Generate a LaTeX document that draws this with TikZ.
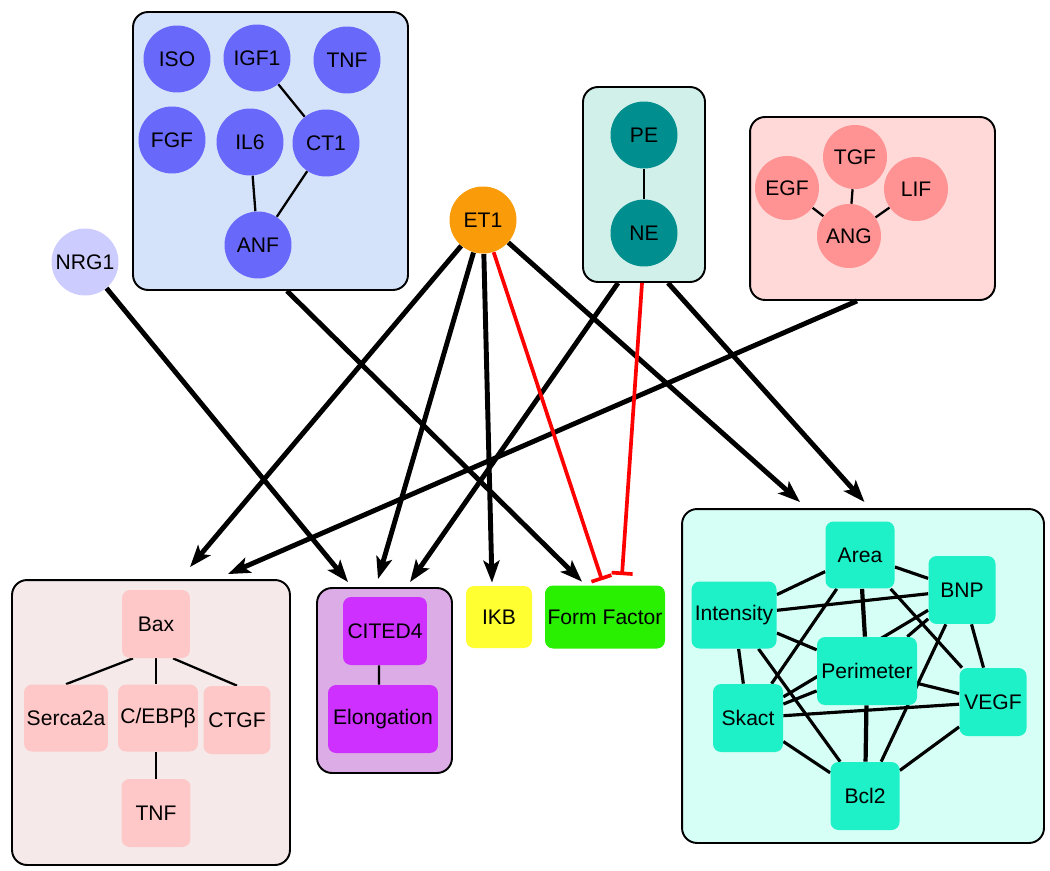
\documentclass[tikz,border=0pt]{standalone}
\usepackage{fontspec}
\setmainfont{Liberation Sans}
\usetikzlibrary{arrows.meta}
\pgfdeclarelayer{bg}
\pgfdeclarelayer{edges}
\pgfsetlayers{bg,edges,main}
\definecolor{bluefill}{RGB}{212,226,250}
\definecolor{bluenode}{RGB}{104,104,250}
\definecolor{tealfill}{RGB}{210,240,234}
\definecolor{tealnode}{RGB}{0,142,142}
\definecolor{pinkfill}{RGB}{255,216,216}
\definecolor{pinknode}{RGB}{255,146,146}
\definecolor{et1col}{RGB}{250,155,10}
\definecolor{nrgcol}{RGB}{204,204,255}
\definecolor{rosefill}{RGB}{245,233,233}
\definecolor{rosenode}{RGB}{255,200,200}
\definecolor{purfill}{RGB}{220,172,230}
\definecolor{purnode}{RGB}{206,48,255}
\definecolor{ikbcol}{RGB}{255,255,50}
\definecolor{ffcol}{RGB}{40,240,0}
\definecolor{aquafill}{RGB}{214,255,246}
\definecolor{aquanode}{RGB}{30,240,200}
\tikzset{
  group/.style={draw=black, line width=1.1pt, rounded corners=0.3cm, inner sep=0pt},
  circ/.style={circle, minimum size=1.34cm, inner sep=0pt, font=\fontsize{12}{14}\selectfont},
  pcirc/.style={circ, minimum size=1.28cm},
  rnode/.style={rectangle, rounded corners=0.16cm, inner sep=0pt, font=\fontsize{12}{14}\selectfont},
  inedge/.style={line width=1.3pt},
  aedge/.style={line width=1.8pt},
  tedge/.style={line width=2.4pt},
  arr/.style={line width=2.8pt, -{Stealth[length=0.44cm,width=0.32cm,inset=0.1cm]}},
  inh/.style={red, line width=2.1pt, -{Bar[width=0.42cm]}}
}
\begin{document}
\begin{tikzpicture}[x=0.02cm,y=-0.02cm]
\useasboundingbox (0,0) rectangle (1050,871);
% group boxes
\begin{pgfonlayer}{bg}
\node[group, fill=bluefill, minimum width=5.5cm, minimum height=5.56cm] (bbox) at (270.5,151) {};
\node[group, fill=tealfill, minimum width=2.44cm, minimum height=3.9cm] (tbox) at (644,184.5) {};
\node[group, fill=pinkfill, minimum width=4.9cm, minimum height=3.66cm] (kbox) at (872.5,208.5) {};
\node[group, fill=rosefill, minimum width=5.56cm, minimum height=5.7cm] (lbox) at (151,722.5) {};
\node[group, fill=purfill, minimum width=2.7cm, minimum height=3.7cm] (pbox) at (384.5,680.5) {};
\node[group, fill=aquafill, minimum width=7.24cm, minimum height=6.68cm] (rbox) at (863,676) {};
\end{pgfonlayer}
% circle nodes
\node[circ, fill=bluenode] (iso) at (177,59) {ISO};
\node[circ, fill=bluenode] (igf) at (257,58) {IGF1};
\node[circ, fill=bluenode] (tnfa) at (347,60) {TNF};
\node[circ, fill=bluenode] (fgf) at (172,140) {FGF};
\node[circ, fill=bluenode] (il6) at (250,142) {IL6};
\node[circ, fill=bluenode] (ct1) at (326,143) {CT1};
\node[circ, fill=bluenode] (anf) at (258,245) {ANF};
\node[circ, fill=tealnode] (pe) at (644,135) {PE};
\node[circ, fill=tealnode] (ne) at (644,233) {NE};
\node[pcirc, fill=pinknode] (egf) at (787,188) {EGF};
\node[pcirc, fill=pinknode] (tgf) at (855,157) {TGF};
\node[pcirc, fill=pinknode] (lif) at (916,189) {LIF};
\node[pcirc, fill=pinknode] (ang) at (849,236) {ANG};
\node[circ, fill=et1col] (et1) at (483,220) {ET1};
\node[circ, fill=nrgcol] (nrg1) at (85,262) {NRG1};
% rectangle nodes
\node[rnode, fill=rosenode, minimum width=1.36cm, minimum height=1.36cm] (bax) at (156,624) {Bax};
\node[rnode, fill=rosenode, minimum width=1.68cm, minimum height=1.34cm] (serca) at (66,718) {Serca2a};
\node[rnode, fill=rosenode, minimum width=1.6cm, minimum height=1.34cm] (cebp) at (158,718) {C/EBPβ};
\node[rnode, fill=rosenode, minimum width=1.34cm, minimum height=1.36cm] (ctgf) at (237,720) {CTGF};
\node[rnode, fill=rosenode, minimum width=1.38cm, minimum height=1.36cm] (tnfb) at (156,813) {TNF};
\node[rnode, fill=purnode, minimum width=1.68cm, minimum height=1.36cm] (cited) at (385,631) {CITED4};
\node[rnode, fill=purnode, minimum width=2.2cm, minimum height=1.36cm] (elong) at (383,719) {Elongation};
\node[rnode, fill=ikbcol, minimum width=1.32cm, minimum height=1.24cm] (ikb) at (499,617) {IKB};
\node[rnode, fill=ffcol, minimum width=2.4cm, minimum height=1.26cm] (ff) at (605,617) {Form Factor};
\node[rnode, fill=aquanode, minimum width=1.38cm, minimum height=1.34cm] (area) at (860,555) {Area};
\node[rnode, fill=aquanode, minimum width=1.34cm, minimum height=1.36cm] (bnp) at (962,590) {BNP};
\node[rnode, fill=aquanode, minimum width=1.7cm, minimum height=1.34cm] (intens) at (734,615) {Intensity};
\node[rnode, fill=aquanode, minimum width=2.0cm, minimum height=1.36cm] (perim) at (867,671) {Perimeter};
\node[rnode, fill=aquanode, minimum width=1.4cm, minimum height=1.36cm] (skact) at (748,718) {Skact};
\node[rnode, fill=aquanode, minimum width=1.34cm, minimum height=1.36cm] (vegf) at (993,702) {VEGF};
\node[rnode, fill=aquanode, minimum width=1.38cm, minimum height=1.36cm] (bcl2) at (865,796) {Bcl2};
% edges
\begin{pgfonlayer}{edges}
\draw[inedge] (igf) -- (ct1);
\draw[inedge] (il6) -- (anf);
\draw[inedge] (ct1) -- (anf);
\draw[inedge] (pe) -- (ne);
\draw[inedge] (egf) -- (ang);
\draw[inedge] (tgf) -- (ang);
\draw[inedge] (lif) -- (ang);
\draw[inedge] ([xshift=-0.46cm]bax.south) -- (serca.north);
\draw[inedge] (bax.south) -- (bax.south |- cebp.north);
\draw[inedge] ([xshift=0.34cm]bax.south) -- (ctgf.north);
\draw[inedge] (tnfb.north |- cebp.south) -- (tnfb.north);
\draw[inedge] ([xshift=-0.12cm]cited.south) -- ([xshift=-0.08cm]elong.north);
% right network
\draw[aedge] (area) -- (bnp);
\draw[aedge] (area) -- (intens);
\draw[tedge] (area) -- (perim);
\draw[aedge] (area) -- (skact);
\draw[aedge] (area) -- (vegf);
\draw[aedge] (intens) -- (bnp);
\draw[aedge] (intens) -- (perim);
\draw[aedge] (intens) -- (skact);
\draw[aedge] (intens) -- (bcl2);
\draw[aedge] (bnp) -- (perim);
\draw[aedge] (bnp) -- (skact);
\draw[aedge] (bnp) -- (vegf);
\draw[aedge] (bnp) -- (bcl2);
\draw[aedge] (perim) -- (vegf);
\draw[aedge] (perim) -- (skact);
\draw[tedge] (perim) -- (bcl2);
\draw[aedge] (skact) -- (vegf);
\draw[aedge] (skact) -- (bcl2);
\draw[aedge] (vegf) -- (bcl2);
% arrows between groups
\draw[arr] (nrg1) -- ([xshift=-0.73cm,yshift=0.1cm]pbox.north);
\draw[arr] ([xshift=0.33cm]bbox.south) -- ([xshift=-0.46cm,yshift=0.07cm]ff.north);
\draw[arr] (et1) -- ([xshift=0.78cm,yshift=0.24cm]lbox.north);
\draw[arr] ([xshift=-0.31cm]kbox.south) -- ([xshift=1.54cm,yshift=0.1cm]lbox.north);
\draw[arr] (et1) -- ([xshift=-0.13cm,yshift=0.16cm]pbox.north);
\draw[arr] ([xshift=-0.52cm]tbox.south) -- ([xshift=0.51cm,yshift=0.1cm]pbox.north);
\draw[arr] (et1) -- ([xshift=-0.14cm,yshift=0.06cm]ikb.north);
\draw[arr] (et1) -- ([xshift=-1.26cm,yshift=0.12cm]rbox.north);
\draw[arr] ([xshift=0.48cm]tbox.south) -- ([xshift=0.03cm,yshift=0.12cm]rbox.north);
\draw[inh] (et1) -- ([xshift=-0.06cm,yshift=0.1cm]ff.north);
\draw[inh] ([xshift=-0.04cm]tbox.south) -- ([xshift=0.34cm,yshift=0.2cm]ff.north);
\end{pgfonlayer}
\end{tikzpicture}
\end{document}
